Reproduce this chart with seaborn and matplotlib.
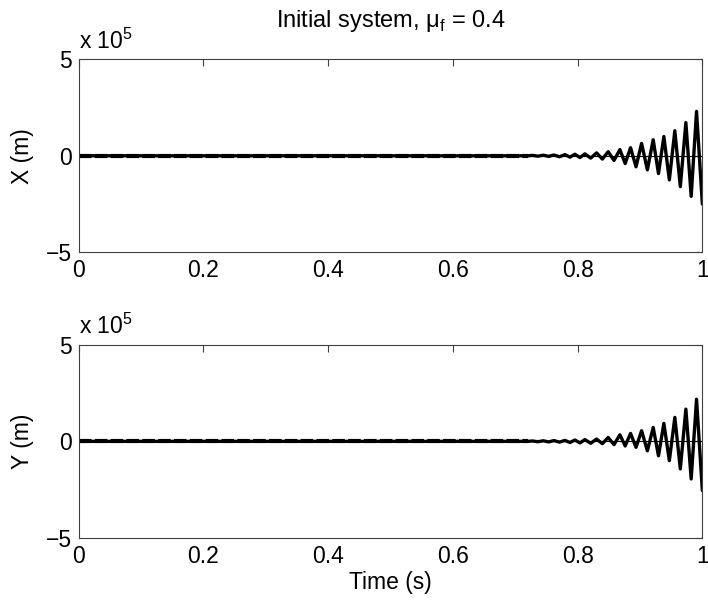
import matplotlib
matplotlib.use("Agg")
import matplotlib.pyplot as plt
import seaborn as sns
import pandas as pd

# extrema of the response (values in units of 1e5 m)
flat_t = [0.0, 0.72]
flat_v = [0.0, 0.0]

x_times = [0.7277, 0.7364, 0.745, 0.7535, 0.762, 0.771, 0.7797, 0.7877,
           0.7957, 0.8037, 0.8117, 0.821, 0.8304, 0.8397, 0.849, 0.8584,
           0.8678, 0.8763, 0.8849, 0.8937, 0.9026, 0.9119, 0.9212, 0.9297,
           0.9383, 0.9471, 0.9559, 0.9647, 0.9736, 0.9821, 0.9907, 1.0]
x_vals = [0.02, -0.02, 0.03, -0.03, 0.04, -0.05, 0.06, -0.07,
          0.08, -0.09, 0.10, -0.12, 0.15, -0.17, 0.21, -0.24,
          0.32, -0.40, 0.42, -0.57, 0.64, -0.73, 0.83, -0.92,
          1.00, -1.25, 1.30, -1.60, 1.72, -2.10, 2.30, -2.50]

y_times = x_times
y_vals = [0.02, -0.02, 0.03, -0.03, 0.04, -0.04, 0.05, -0.06,
          0.07, -0.08, 0.09, -0.10, 0.12, -0.12, 0.20, -0.17,
          0.34, -0.24, 0.41, -0.31, 0.55, -0.49, 0.72, -0.75,
          0.93, -1.00, 1.24, -1.43, 1.67, -1.95, 2.18, -2.55]

xticks = [0, 0.2, 0.4, 0.6, 0.8, 1]
yticks = [-5, 0, 5]

sns.set_style("white")
plt.rcParams['font.family'] = ['Liberation Sans', 'DejaVu Sans']
plt.rcParams['mathtext.fontset'] = 'custom'
plt.rcParams['mathtext.rm'] = 'Liberation Sans'
plt.rcParams['text.color'] = 'black'
plt.rcParams['axes.labelcolor'] = 'black'
plt.rcParams['xtick.color'] = 'black'
plt.rcParams['ytick.color'] = 'black'
fs = 16.5

fig = plt.figure(figsize=(7.08, 6.05), dpi=100)
ax1 = fig.add_axes([0.111, 0.583, 0.881, 0.319])
ax2 = fig.add_axes([0.111, 0.111, 0.881, 0.319])

panels = [(ax1, x_times, x_vals, "X (m)"), (ax2, y_times, y_vals, "Y (m)")]
for ax, tt, vv, lab in panels:
    df = pd.DataFrame({"t": flat_t + tt, "v": flat_v + vv})
    flat = pd.DataFrame({"t": flat_t, "v": flat_v})
    ax.axhline(0, color="black", lw=0.8)
    sns.lineplot(data=df, x="t", y="v", ax=ax, color="black", lw=2.4)
    sns.lineplot(data=flat, x="t", y="v", ax=ax, color="black", lw=3.0,
                 linestyle=(0, (3, 0.8)))
    ax.set_xlim(0, 1)
    ax.set_ylim(-5, 5)
    ax.set_xticks(xticks)
    ax.set_xticklabels([f"{v:g}" for v in xticks])
    ax.set_yticks(yticks)
    ax.set_yticklabels(["\u22125", "0", "5"])
    ax.tick_params(direction="in", length=5, width=0.8, color="#404040",
                   labelcolor="black", labelsize=fs, top=True, right=True,
                   pad=5)
    for s in ax.spines.values():
        s.set_color("#404040")
        s.set_linewidth(0.8)
    ax.set_xlabel("")
    ax.set_ylabel(lab, fontsize=fs, labelpad=8)
    ax.text(0.0, 1.03, "x 10$^{\\mathregular{5}}$", transform=ax.transAxes,
            fontsize=fs, ha="left", va="bottom")

ax2.set_xlabel("Time (s)", fontsize=fs, labelpad=2)
ax1.set_title("Initial system, \u03bc$_\\mathregular{f}$ = 0.4", fontsize=17,
              pad=23)

fig.savefig("out.png", dpi=100)
